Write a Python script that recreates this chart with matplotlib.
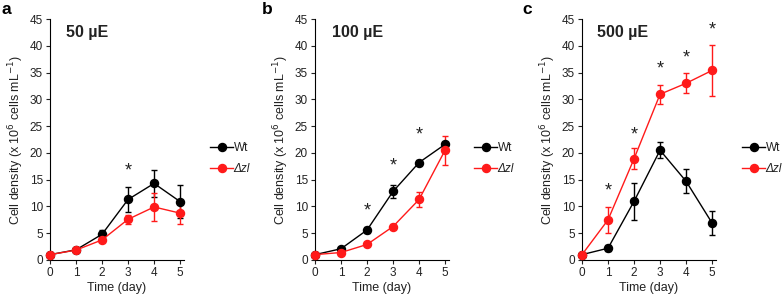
import matplotlib
matplotlib.use("Agg")
import matplotlib.pyplot as plt
from matplotlib.lines import Line2D
import numpy as np

plt.rcParams['font.family'] = ['Liberation Sans', 'DejaVu Sans']

days = [0, 1, 2, 3, 4, 5]

# Panel a: 50 uE
a_wt = [1.0, 1.9, 4.8, 11.3, 14.3, 10.9]
a_wt_err = [0.1, 0.3, 0.8, 2.4, 2.5, 3.1]
a_dz = [1.0, 1.85, 3.75, 7.6, 9.9, 8.75]
a_dz_err = [0.1, 0.2, 0.4, 0.8, 2.6, 2.1]
a_star_days = [3]
a_star_y = [16.6]

# Panel b: 100 uE
b_wt = [1.0, 2.1, 5.6, 12.8, 18.2, 21.6]
b_wt_err = [0.1, 0.2, 0.6, 1.2, 0.4, 0.5]
b_dz = [1.0, 1.4, 2.9, 6.25, 11.3, 20.5]
b_dz_err = [0.1, 0.2, 0.3, 0.5, 1.4, 2.7]
b_star_days = [2, 3, 4]
b_star_y = [9.1, 17.5, 23.25]

# Panel c: 500 uE
c_wt = [1.0, 2.2, 10.95, 20.5, 14.7, 6.9]
c_wt_err = [0.1, 0.6, 3.5, 1.5, 2.2, 2.2]
c_dz = [1.0, 7.5, 18.9, 30.95, 33.0, 35.4]
c_dz_err = [0.1, 2.4, 1.95, 1.8, 1.9, 4.75]
c_star_days = [1, 2, 3, 4, 5]
c_star_y = [12.8, 23.4, 35.6, 37.8, 43.0]

panels = [
    ("a", "50 µE", a_wt, a_wt_err, a_dz, a_dz_err, a_star_days, a_star_y),
    ("b", "100 µE", b_wt, b_wt_err, b_dz, b_dz_err, b_star_days, b_star_y),
    ("c", "500 µE", c_wt, c_wt_err, c_dz, c_dz_err, c_star_days, c_star_y),
]

RED = '#ff1a1a'
TXT = '#222222'
W, H = 784, 296
fig = plt.figure(figsize=(W / 100, H / 100), dpi=100)

lefts = [50, 315, 582]
letter_x = [2, 262, 522]
title_x = [66, 332, 597]
legend_x = [210, 474, 742]
ax_w = 134
top_px, bot_px = 19, 260

for i, (letter, title, wt, wte, dz, dze, sd, sy) in enumerate(panels):
    ax = fig.add_axes([lefts[i] / W, (H - bot_px) / H, ax_w / W, (bot_px - top_px) / H])
    ax.errorbar(days, wt, yerr=wte, color='black', ecolor='black', marker='o',
                markersize=5.8, lw=1, elinewidth=1, capsize=2.5, capthick=1,
                clip_on=False, zorder=3)
    ax.errorbar(days, dz, yerr=dze, color=RED, ecolor=RED, marker='o',
                markersize=5.8, lw=1, elinewidth=1, capsize=2.5, capthick=1,
                clip_on=False, zorder=3)
    for d, y in zip(sd, sy):
        ax.text(d, y, '*', ha='center', va='center', fontsize=13, color=TXT)
    ax.set_xlim(0, 5.15)
    ax.set_ylim(0, 45)
    ax.set_xticks(days)
    ax.set_yticks(np.arange(0, 46, 5))
    ax.spines['top'].set_visible(False)
    ax.spines['right'].set_visible(False)
    ax.tick_params(axis='both', labelsize=8.5, length=3, width=0.8, pad=2, colors=TXT)
    ax.set_xlabel('Time (day)', fontsize=9, labelpad=2, color=TXT)
    ax.set_ylabel('Cell density (x 10$^{6}$ cells mL$^{-1}$)', fontsize=9, labelpad=3, color=TXT)
    fig.text(title_x[i] / W, 1 - 33 / H, title, fontsize=11.5, fontweight='bold',
             ha='left', va='center', color=TXT)
    fig.text(letter_x[i] / W, 1 - 9 / H, letter, fontsize=12.5, fontweight='bold',
             ha='left', va='center')
    handles = [Line2D([], [], color='black', marker='o', markersize=5.8, lw=1),
               Line2D([], [], color=RED, marker='o', markersize=5.8, lw=1)]
    leg = ax.legend(handles, ['Wt', 'Δzl'], loc='center left',
                    bbox_to_anchor=(legend_x[i] / W, 1 - 158.5 / H),
                    bbox_transform=fig.transFigure, frameon=False, fontsize=8.5,
                    handlelength=1.95, handletextpad=0.05, labelspacing=0.7,
                    borderpad=0, borderaxespad=0)
    for t in leg.get_texts():
        t.set_color(TXT)
        if t.get_text() == 'Δzl':
            t.set_style('italic')

fig.savefig('out.png', dpi=100)
